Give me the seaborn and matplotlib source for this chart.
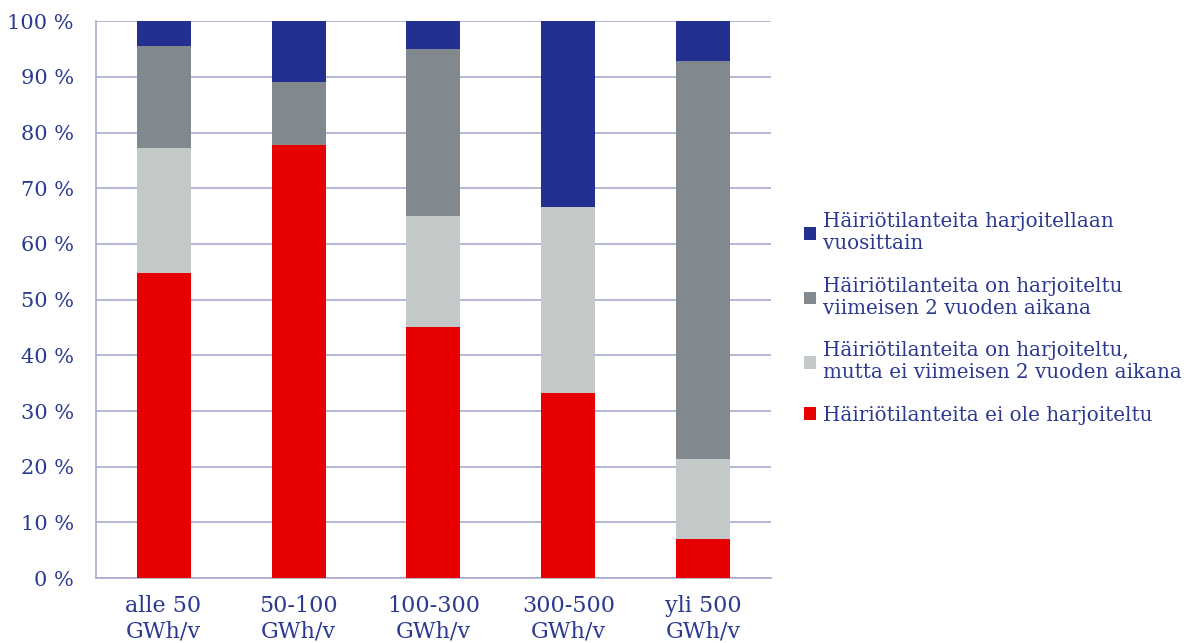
import numpy as np
import pandas as pd
import seaborn as sns
import matplotlib.pyplot as plt

categories = ["alle 50\nGWh/v", "50-100\nGWh/v", "100-300\nGWh/v", "300-500\nGWh/v", "yli 500\nGWh/v"]
ei_harjoiteltu = [54.7, 77.8, 45.0, 33.3, 7.1]
ei_viimeisen_2v = [22.6, 0.0, 20.0, 33.4, 14.3]
viimeisen_2v = [18.2, 11.2, 30.0, 0.0, 71.4]
vuosittain = [4.5, 11.0, 5.0, 33.3, 7.2]

series_labels = [
    "Häiriötilanteita ei ole harjoiteltu",
    "Häiriötilanteita on harjoiteltu,\nmutta ei viimeisen 2 vuoden aikana",
    "Häiriötilanteita on harjoiteltu\nviimeisen 2 vuoden aikana",
    "Häiriötilanteita harjoitellaan\nvuosittain",
]
colors = ["#e60000", "#c3c9c9", "#81898e", "#233090"]
text_color = "#2b3990"
grid_color = "#a9abcf"

sns.set_theme(style="white")
plt.rcParams["font.family"] = ["DejaVu Serif"]

df = pd.DataFrame({"cat": categories})
series = [ei_harjoiteltu, ei_viimeisen_2v, viimeisen_2v, vuosittain]

fig = plt.figure(figsize=(11.86, 6.43), dpi=100)
ax = fig.add_axes([0.081, 0.101, 0.569, 0.866])

bottom = np.zeros(len(categories))
for vals, lab, col in zip(series, series_labels, colors):
    sns.barplot(x=df["cat"], y=vals, bottom=bottom, color=col, width=0.4,
                label=lab, ax=ax, zorder=3, linewidth=0, saturation=1)
    bottom = bottom + np.array(vals)

ax.set_ylim(0, 100)
ax.set_xlim(-0.5, 4.5)
ax.set_yticks(np.arange(0, 101, 10))
ax.set_yticklabels([f"{v} %" for v in range(0, 101, 10)])
ax.yaxis.grid(True, color=grid_color, linewidth=1.2, zorder=0)
ax.set_xlabel("")
ax.set_ylabel("")

ax.set_xticks(np.arange(-0.5, 5, 1), minor=False)
ax.set_xticklabels([""] * 6)
ax.set_xticks(np.arange(5), minor=True)
ax.set_xticklabels(categories, minor=True)
ax.tick_params(axis="x", which="major", length=8, color=grid_color, width=1.2, direction="out")
ax.tick_params(axis="x", which="minor", length=0, pad=12, labelsize=16, labelcolor=text_color)
ax.tick_params(axis="y", length=8, color=grid_color, width=1.2, direction="out",
               labelsize=15, labelcolor=text_color, pad=8)

for s in ["top", "right"]:
    ax.spines[s].set_visible(False)
for s in ["left", "bottom"]:
    ax.spines[s].set_color(grid_color)
    ax.spines[s].set_linewidth(1.2)

handles, labels = ax.get_legend_handles_labels()
ax.get_legend().remove()
leg = fig.legend(handles[::-1], labels[::-1], loc="upper left",
                 bbox_to_anchor=(0.671, 0.682), frameon=False, fontsize=14.3,
                 handlelength=0.6, handleheight=0.6, handletextpad=0.35,
                 labelspacing=1.18, labelcolor=text_color, borderaxespad=0)

fig.savefig("out.png", dpi=100)
